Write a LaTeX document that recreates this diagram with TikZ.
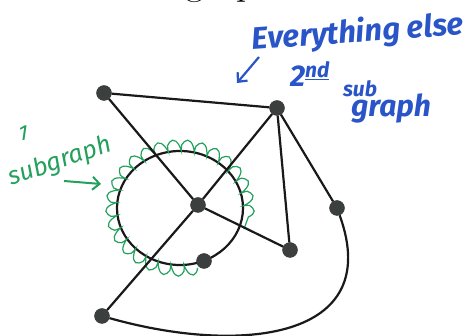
\documentclass[tikz,border=0pt]{standalone}
\usepackage{fontspec}
\usepackage{tikz}
\usetikzlibrary{arrows.meta,decorations.pathmorphing,backgrounds}
\newfontfamily\handfont{Fira Sans}
\definecolor{vertexgray}{HTML}{3B3F3D}
\definecolor{penblue}{HTML}{2A55C8}
\definecolor{pengreen}{HTML}{22A05C}

\begin{document}
\begin{tikzpicture}[
  x=1pt, y=-1pt,
  vertex/.style={circle, draw=black!80, fill=vertexgray, inner sep=0pt, minimum size=15pt},
  edge/.style={line width=2.2pt, black!90},
  bluenote/.style={text=penblue, inner sep=0pt},
  greennote/.style={text=pengreen, inner sep=0pt},
  penarrow/.style={line width=2.2pt, -{Straight Barb[length=7pt,width=13pt]}}
]
\useasboundingbox (0,0) rectangle (464,336);
\begin{scope}
  \clip (0,0) rectangle (464,336);
  \node[anchor=base west, inner sep=0pt, font=\fontsize{40}{40}\selectfont] (title) at (78,-5) {is this graph};
\end{scope}

% vertices
\node[vertex] (a) at (104,93) {};
\node[vertex] (b) at (277,108) {};
\node[vertex] (c) at (198,205) {};
\node[vertex] (d) at (337,208) {};
\node[vertex] (e) at (290,250) {};
\node[vertex] (f) at (204,261) {};
\node[vertex] (g) at (102,316) {};

% edges and the circled subgraph
\begin{scope}[on background layer]
\draw[edge] (180,208) ellipse [x radius=63, y radius=57];
\draw[pengreen, line width=1.2pt, decorate,
      decoration={coil, aspect=0.35, segment length=14pt, amplitude=6pt}]
  (180,208) ++(75:68 and 62) arc [start angle=75, end angle=380, x radius=68, y radius=62];
\draw[edge] (a) -- (b);
\draw[edge] (a) -- (c);
\draw[edge] (c) -- (b);
\draw[edge] (c) -- (g);
\draw[edge] (c) -- (e);
\draw[edge] (b) -- (e);
\draw[edge] (b) -- (d);
\draw[edge] (g) .. controls (240,355) and (385,340) .. (d);
\end{scope}

% notes
\node[bluenote, rotate=4, font=\handfont\itshape\bfseries\fontsize{31}{32}\selectfont] (everything) at (358,33) {Everything else};
\node[bluenote, font=\handfont\itshape\bfseries\fontsize{30}{30}\selectfont] (second) at (310,74) {2\textsuperscript{\underline{nd}}};
\node[bluenote, font=\handfont\itshape\bfseries\fontsize{21}{21}\selectfont] (sub) at (360,89) {sub};
\node[bluenote, font=\handfont\itshape\bfseries\fontsize{30}{30}\selectfont] (graph) at (391,108) {graph};
\coordinate (bluetail) at (259,57);
\coordinate (bluehead) at (237,83);
\draw[penarrow, penblue] (bluetail) -- (bluehead);

\node[greennote, font=\handfont\itshape\fontsize{22}{22}\selectfont] (one) at (23,133) {1};
\node[greennote, rotate=19, font=\handfont\itshape\fontsize{25}{25}\selectfont] (subgraph) at (60,162) {subgraph};
\coordinate (greentail) at (64,181);
\coordinate (greenhead) at (101,184);
\draw[penarrow, pengreen, line width=2pt] (greentail) -- (greenhead);
\end{tikzpicture}
\end{document}
